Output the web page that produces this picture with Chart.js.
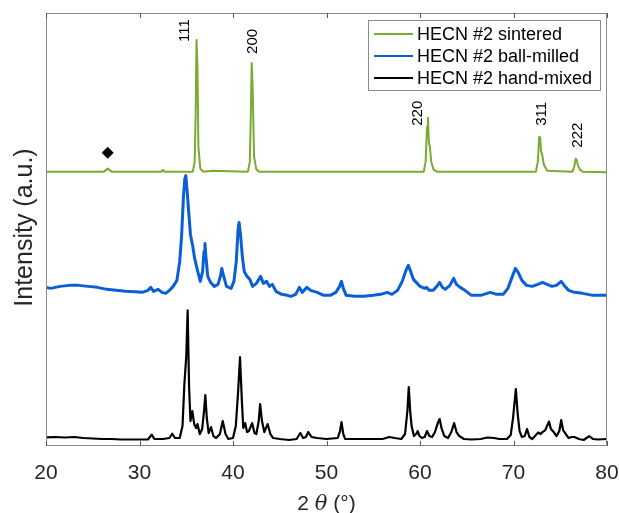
<!DOCTYPE html>
<html>
<head>
<meta charset="utf-8">
<script src="https://cdn.jsdelivr.net/npm/chart.js@4/dist/chart.umd.min.js"></script>
<style>
  html, body { margin: 0; padding: 0; background: #fff; }
  #wrap { width: 619px; height: 513px; }
</style>
</head>
<body>
<div id="wrap"><canvas id="chart" width="619" height="513"></canvas></div>
<script>
// XRD patterns, 2theta (deg) vs intensity (a.u., already offset per pattern)
const sinteredAngle = [20, 26.2, 26.6, 27.0, 32.3, 32.5, 32.7, 35.7, 35.9, 36.0, 36.1, 36.2, 36.3, 36.5, 36.8, 37.8, 41.6, 41.8, 41.9, 42.0, 42.1, 42.25, 42.5, 42.8,
  60.4, 60.6, 60.75, 60.85, 60.95, 61.05, 61.2, 61.45, 61.8, 72.4, 72.6, 72.75, 72.85, 72.95, 73.05, 73.25, 73.6, 76.3, 76.5, 76.65, 76.75, 76.9, 77.1, 77.4, 80];
const sinteredIntensity = [275, 275, 278, 275, 275, 276.5, 275, 275, 285, 330, 407, 380, 300, 278, 275, 276, 275, 285, 330, 384, 360, 290, 277, 275,
  275, 285, 320, 329, 304, 300, 285, 277, 275, 275, 285, 310, 309, 295, 293, 282, 276, 275, 280, 288, 287, 281, 277, 275, 274.5];

const milledAngle = [20, 20.5, 21.5, 22.5, 23.5, 24.5, 25.5, 26.5, 27.5, 28.5, 29.5, 30.3, 30.9, 31.2, 31.5, 32.0, 32.4, 32.8, 33.2, 33.6, 34.0, 34.3, 34.5, 34.7,
  34.85, 34.95, 35.1, 35.3, 35.45, 35.7, 35.9, 36.2, 36.5, 36.75, 36.9, 37.0, 37.1, 37.3, 37.6, 38.0, 38.4, 38.65, 38.8, 38.95, 39.3, 39.8, 40.1, 40.35, 40.55,
  40.65, 40.8, 41.0, 41.2, 41.5, 41.8, 42.1, 42.5, 42.95, 43.25, 43.6, 43.9, 44.2, 44.6, 45.2, 45.8, 46.2, 46.7, 47.1, 47.4, 47.9, 48.3, 49.0, 49.7, 50.4, 51.0,
  51.4, 51.6, 51.8, 52.1, 53.0, 54.0, 55.0, 55.8, 56.5, 57.0, 57.6, 58.1, 58.5, 58.75, 59.0, 59.3, 59.6, 60.0, 60.5, 60.7, 61.0, 61.4, 61.8, 62.1, 62.4, 62.7,
  63.2, 63.6, 63.9, 64.3, 64.8, 65.5, 66.5, 67.5, 68.2, 68.9, 69.4, 69.8, 70.2, 70.5, 70.9, 71.4, 72.0, 72.6, 73.1, 73.6, 74.1, 74.6, 75.1, 75.5, 75.9, 76.5,
  77.4, 78.5, 79.3, 80];
const milledIntensity = [159, 158, 160, 161, 161, 160, 159, 157, 156, 155, 154.5, 154, 156, 159, 155, 157, 154, 153, 156, 160, 166, 185, 210, 250,
  268, 271, 255, 230, 212, 200, 188, 176, 165, 175, 195, 203, 190, 170, 164, 160, 162, 170, 178, 172, 160, 158, 165, 185, 218,
  224, 212, 190, 175, 170, 167, 160, 163, 170, 163, 165, 160, 162, 155, 152, 151, 150, 152, 159, 154, 159, 156, 154, 151, 151, 154,
  160, 165, 158, 151, 150, 150, 151, 152, 154, 152, 156, 165, 176, 181, 175, 167, 164, 160, 158, 159, 156, 156, 160, 164, 159, 157,
  161, 168, 162, 159, 156, 151, 151, 154, 152, 152, 158, 168, 178, 174, 166, 161, 160, 162, 164, 162, 160, 161, 165, 160, 156, 154,
  153, 151, 151, 151];

const mixedAngle = [20, 21, 22, 23, 24, 25, 26, 27, 28, 29, 30, 30.9, 31.3, 31.6, 32.5, 33.2, 33.5, 33.8, 34.3, 34.6, 34.8, 35.0, 35.15, 35.3, 35.45, 35.65,
  35.85, 36.05, 36.2, 36.45, 36.7, 36.9, 37.04, 37.2, 37.4, 37.65, 37.9, 38.2, 38.6, 38.9, 39.2, 39.5, 40.0, 40.3, 40.55, 40.75, 40.95, 41.1, 41.3, 41.5, 41.7,
  42.05, 42.3, 42.5, 42.75, 42.9, 43.1, 43.35, 43.7, 44.0, 44.3, 45.0, 46.0, 46.8, 47.2, 47.5, 47.8, 48.05, 48.4, 49.0, 50.0, 51.2, 51.45, 51.6, 51.8, 52.0,
  53.0, 54.0, 55.0, 56.0, 56.7, 57.3, 58.0, 58.4, 58.65, 58.8, 58.95, 59.1, 59.35, 59.6, 59.75, 59.95, 60.2, 60.5, 60.75, 61.0, 61.3, 61.6, 61.9, 62.1, 62.3,
  62.6, 63.0, 63.35, 63.65, 63.9, 64.2, 64.7, 65.5, 66.5, 67.2, 67.9, 68.5, 69.3, 69.7, 69.95, 70.25, 70.45, 70.65, 70.9, 71.2, 71.45, 71.7, 72.0, 72.4, 72.65,
  72.9, 73.1, 73.4, 73.8, 74.0, 74.3, 74.6, 74.9, 75.1, 75.3, 75.6, 75.9, 76.2, 76.5, 77.0, 77.5, 78.1, 78.5, 79.0, 80];
const mixedIntensity = [8.7, 9, 8.5, 9, 8, 7.5, 7, 7, 6.5, 6.5, 6.5, 6.5, 11.3, 7, 7, 8, 12.3, 8, 8, 20, 62, 90, 136, 60, 25, 35,
  22, 18, 22, 12, 17, 35, 51, 28, 13, 19, 10, 8, 12, 25, 12, 7, 8, 20, 55, 89, 45, 18, 23, 14, 15,
  23, 13, 12, 25, 42, 25, 14, 22, 12, 8, 7, 6, 7, 13, 8, 9, 14, 9, 8, 7, 8, 15, 24, 12, 7,
  7, 7, 7, 7, 9, 8, 7, 12, 35, 59, 35, 20, 10, 12, 15, 10, 8, 9, 15, 10, 9, 14, 23, 27, 18,
  10, 8, 14, 23, 14, 10, 7, 6.5, 7, 8.5, 8, 7, 7, 11, 28, 57, 32, 15, 9, 10, 17, 9, 7, 11, 13.5,
  12, 14, 16, 24.5, 17, 14, 10, 15, 26, 16, 12, 8, 9, 9, 7, 6, 10, 7, 6.5, 7];

const seriesNames = ['HECN #2 sintered', 'HECN #2 ball-milled', 'HECN #2 hand-mixed'];
const seriesColors = ['#77ac30', '#0b5fd6', '#000000'];

// hkl reflections of the sintered pattern
const hklLabels = ['111', '200', '220', '311', '222'];
const hklAngle = [34.87, 42.09, 59.73, 73.0, 76.9];
const hklLabelBase = [405, 393, 321, 321, 299];
// secondary phase marker
const markerAngle = [26.6];
const markerIntensity = [294];

const FONT = "'Liberation Sans', Arial, Helvetica, sans-serif";
const AXIS_GRAY = '#8a8a8a';

const toPoints = (xs, ys) => xs.map((x, i) => ({ x: x, y: ys[i] }));

const overlay = {
  id: 'overlay',
  afterDraw(chart) {
    const ctx = chart.ctx;
    const a = chart.chartArea;
    const xs = chart.scales.x;
    const ys = chart.scales.y;
    ctx.save();

    // box + inward ticks on top and bottom
    ctx.strokeStyle = AXIS_GRAY;
    ctx.lineWidth = 1;
    ctx.strokeRect(a.left + 0.5, a.top + 0.5, a.right - a.left - 1, a.bottom - a.top - 1);
    ctx.strokeStyle = '#555';
    xs.ticks.forEach(t => {
      const px = Math.round(xs.getPixelForValue(t.value)) + 0.5;
      ctx.beginPath();
      ctx.moveTo(px, a.bottom);
      ctx.lineTo(px, a.bottom - 5);
      ctx.moveTo(px, a.top);
      ctx.lineTo(px, a.top + 5);
      ctx.stroke();
    });

    // axis titles
    ctx.fillStyle = '#262626';
    ctx.textBaseline = 'alphabetic';
    ctx.font = '25px ' + FONT;
    ctx.save();
    ctx.translate(32, (a.top + a.bottom) / 2 - 2);
    ctx.rotate(-Math.PI / 2);
    ctx.textAlign = 'center';
    ctx.fillText('Intensity (a.u.)', 0, 0);
    ctx.restore();

    const parts = [['2 ', '21px ' + FONT], ['θ', 'italic 21px "DejaVu Serif", serif'], [' (°)', '21px ' + FONT]];
    let total = 0;
    parts.forEach(p => { ctx.font = p[1]; total += ctx.measureText(p[0]).width; });
    let cx = (a.left + a.right) / 2 - total / 2;
    ctx.textAlign = 'left';
    parts.forEach(p => {
      ctx.font = p[1];
      ctx.fillText(p[0], cx, 510);
      cx += ctx.measureText(p[0]).width;
    });

    // hkl labels, rotated
    ctx.fillStyle = '#000';
    ctx.font = '15px ' + FONT;
    hklLabels.forEach((lab, i) => {
      ctx.save();
      ctx.translate(xs.getPixelForValue(hklAngle[i]), ys.getPixelForValue(hklLabelBase[i]));
      ctx.rotate(-Math.PI / 2);
      ctx.textAlign = 'left';
      ctx.textBaseline = 'middle';
      ctx.fillText(lab, 0, 0);
      ctx.restore();
    });

    // diamond marker
    markerAngle.forEach((m, i) => {
      const px = xs.getPixelForValue(m);
      const py = ys.getPixelForValue(markerIntensity[i]);
      ctx.beginPath();
      ctx.moveTo(px, py - 6);
      ctx.lineTo(px + 6, py);
      ctx.lineTo(px, py + 6);
      ctx.lineTo(px - 6, py);
      ctx.closePath();
      ctx.fill();
    });

    // legend box
    const lx = 368, ly = 20, lw = 232, lh = 70;
    ctx.fillStyle = '#fff';
    ctx.fillRect(lx, ly, lw, lh);
    ctx.strokeStyle = AXIS_GRAY;
    ctx.strokeRect(lx + 0.5, ly + 0.5, lw, lh);
    ctx.font = '18px ' + FONT;
    ctx.textAlign = 'left';
    ctx.textBaseline = 'middle';
    chart.data.datasets.forEach((ds, i) => {
      const ry = 34 + i * 22;
      ctx.strokeStyle = ds.borderColor;
      ctx.lineWidth = 2;
      ctx.beginPath();
      ctx.moveTo(374, ry);
      ctx.lineTo(413, ry);
      ctx.stroke();
      ctx.fillStyle = '#000';
      ctx.fillText(ds.label, 417, ry + 1);
    });

    ctx.restore();
  }
};

new Chart('chart', {
  type: 'scatter',
  data: {
    datasets: [
      { label: seriesNames[0], data: toPoints(sinteredAngle, sinteredIntensity), borderColor: seriesColors[0], borderWidth: 2 },
      { label: seriesNames[1], data: toPoints(milledAngle, milledIntensity), borderColor: seriesColors[1], borderWidth: 3 },
      { label: seriesNames[2], data: toPoints(mixedAngle, mixedIntensity), borderColor: seriesColors[2], borderWidth: 2.2 }
    ].map(ds => Object.assign(ds, { showLine: true, pointRadius: 0, tension: 0, fill: false, borderJoinStyle: 'round' }))
  },
  options: {
    responsive: false,
    animation: false,
    layout: { padding: { left: 46, right: 12, top: 13, bottom: 0 } },
    plugins: { legend: { display: false }, tooltip: { enabled: false } },
    scales: {
      x: {
        type: 'linear', min: 20, max: 80,
        grid: { display: false, drawTicks: false },
        border: { display: false },
        ticks: { stepSize: 10, padding: 15, maxRotation: 0, color: '#262626', font: { family: FONT, size: 21 } },
        afterFit(scale) {
          scale.height = 67;
          scale.paddingLeft = 0;
          scale.paddingRight = 0;
          scale.paddingTop = 0;
          scale.paddingBottom = 0;
        }
      },
      y: { type: 'linear', min: 0, max: 434, display: false }
    }
  },
  plugins: [overlay]
});
</script>
</body>
</html>
